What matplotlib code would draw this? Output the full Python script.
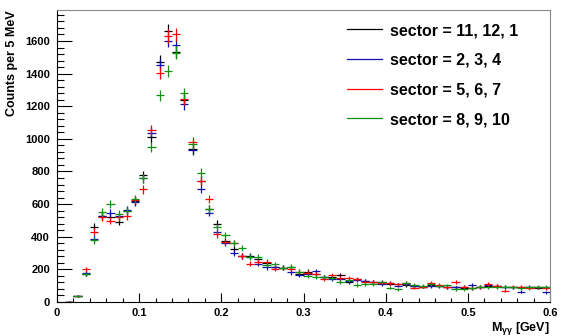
import numpy as np
import matplotlib
matplotlib.use("Agg")
import matplotlib.pyplot as plt
from matplotlib.lines import Line2D
from matplotlib.ticker import MultipleLocator

plt.rcParams['font.family'] = ['Liberation Sans', 'DejaVu Sans']
plt.rcParams['font.weight'] = 'bold'
plt.rcParams['mathtext.default'] = 'regular'

# bin centres, 10 MeV wide bins from 0 to 0.6 GeV
mass = np.arange(0.005, 0.6, 0.01)

sec_11_12_1 = [0, 2, 35, 172, 462, 529, 523, 492, 558, 620,
               778, 1009, 1473, 1663, 1535, 1240, 935, 744, 568, 480,
               376, 325, 282, 285, 262, 237, 216, 210, 214, 174,
               186, 174, 152, 151, 163, 123, 138, 128, 121, 124,
               113, 108, 104, 98, 94, 104, 97, 90, 90, 88,
               84, 94, 98, 98, 94, 90, 90, 90, 88, 90]
sec_2_3_4 = [0, 2, 35, 175, 388, 527, 544, 530, 564, 611,
             758, 1038, 1453, 1602, 1574, 1212, 932, 695, 548, 431,
             364, 302, 283, 278, 235, 213, 213, 210, 182, 166,
             170, 191, 151, 139, 141, 130, 137, 131, 122, 108,
             118, 100, 108, 98, 94, 98, 100, 92, 90, 94,
             104, 90, 104, 96, 90, 90, 63, 94, 90, 59]
sec_5_6_7 = [0, 3, 37, 200, 431, 520, 498, 519, 527, 625,
             691, 1054, 1406, 1631, 1641, 1244, 983, 744, 630, 415,
             366, 364, 281, 236, 247, 247, 202, 210, 202, 186,
             180, 170, 142, 166, 145, 149, 139, 125, 124, 119,
             118, 108, 115, 88, 94, 115, 104, 90, 124, 92,
             84, 92, 110, 98, 69, 94, 94, 84, 90, 84]
sec_8_9_10 = [0, 3, 35, 172, 378, 550, 599, 538, 556, 633,
              758, 952, 1267, 1418, 1528, 1279, 967, 793, 570, 458,
              411, 364, 329, 276, 278, 227, 231, 210, 216, 186,
              160, 153, 155, 148, 123, 133, 104, 110, 110, 120,
              88, 78, 115, 104, 98, 108, 100, 102, 78, 78,
              84, 94, 90, 90, 94, 90, 84, 90, 94, 94]

series = [
    ("sector = 11, 12, 1", sec_11_12_1, "#000000"),
    ("sector = 2, 3, 4", sec_2_3_4, "#1010b0"),
    ("sector = 5, 6, 7", sec_5_6_7, "#ff0000"),
    ("sector = 8, 9, 10", sec_8_9_10, "#109010"),
]

fig = plt.figure(figsize=(5.67, 3.36), dpi=100)
ax = fig.add_axes([57 / 567, 34 / 336, 493 / 567, 292 / 336])

for label, counts, col in series:
    y = np.array(counts, dtype=float)
    keep = y > 0
    ax.errorbar(mass[keep], y[keep], xerr=0.005, yerr=np.sqrt(y[keep]),
                fmt='none', ecolor=col, elinewidth=0.9, capsize=0)

ax.set_xlim(0, 0.6)
ax.set_ylim(0, 1790)
ax.xaxis.set_major_locator(MultipleLocator(0.1))
ax.xaxis.set_minor_locator(MultipleLocator(0.02))
ax.yaxis.set_major_locator(MultipleLocator(200))
ax.yaxis.set_minor_locator(MultipleLocator(40))
ax.set_xticks(np.arange(0, 0.61, 0.1))
ax.set_xticklabels(["0", "0.1", "0.2", "0.3", "0.4", "0.5", "0.6"])

ax.tick_params(axis='y', which='major', direction='in', length=10.6, width=0.8,
               labelsize=8, pad=5)
ax.tick_params(axis='y', which='minor', direction='in', length=5.3, width=0.8)
ax.tick_params(axis='x', which='major', direction='in', length=6.3, width=0.8,
               labelsize=8, pad=4)
ax.tick_params(axis='x', which='minor', direction='in', length=3.2, width=0.8)
for lab in ax.get_xticklabels() + ax.get_yticklabels():
    lab.set_fontweight('bold')

ax.spines['left'].set_linewidth(0.8)
ax.spines['bottom'].set_linewidth(0.8)
ax.spines['top'].set_color('#888888')
ax.spines['right'].set_color('#888888')

fig.text(12 / 567, 1 - 10 / 336, "Counts per 5 MeV", rotation=90,
         ha='center', va='top', fontsize=9, fontweight='bold')
fig.text(550 / 567, 1 - 331 / 336, r"M$_{\gamma\gamma}$ [GeV]",
         ha='right', va='baseline', fontsize=9, fontweight='bold')

handles = [Line2D([], [], color=col, lw=0.9) for _, _, col in series]
labels = [s[0] for s in series]
ax.legend(handles, labels, loc='upper left',
          bbox_to_anchor=(347 / 567, 1 - 23 / 336), bbox_transform=fig.transFigure,
          frameon=False, borderpad=0, borderaxespad=0, handlelength=2.2,
          handletextpad=0.5, labelspacing=0.92,
          prop={'size': 11.5, 'weight': 'bold'})

fig.savefig("out.png", dpi=100)
